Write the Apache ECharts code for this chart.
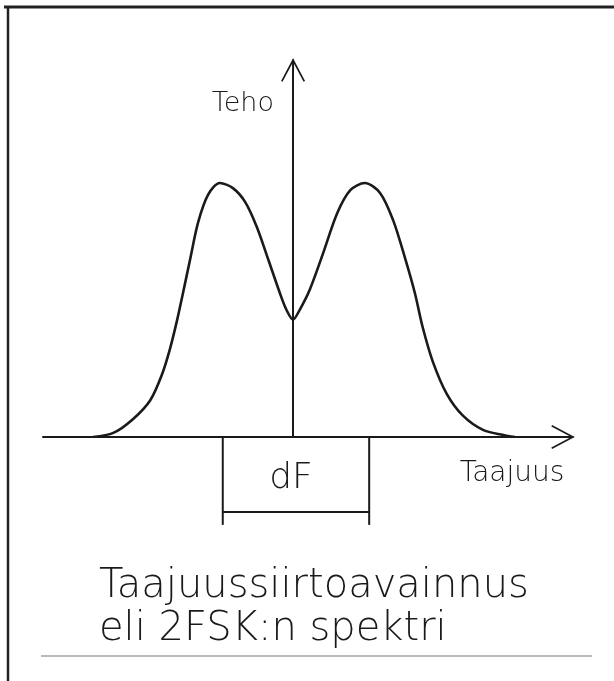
<!DOCTYPE html>
<html>
<head>
<meta charset="utf-8">
<script src="https://cdn.jsdelivr.net/npm/echarts@6/dist/echarts.min.js"></script>
<style>
  html, body { margin: 0; padding: 0; background: #fff; }
  #spectrum { width: 614px; height: 681px; }
</style>
</head>
<body>
<div id="spectrum"></div>
<script>
// taajuus (peaks at -1 and +1) and teho (peak = 1)
const freq = [-2.76, -2.48, -2.21, -1.97, -1.81, -1.70, -1.60, -1.52, -1.42, -1.31, -1.17, -1.01,
  -0.83, -0.66, -0.50, -0.34, -0.18, -0.09, 0, 0.09, 0.23, 0.41, 0.61, 0.79, 0.99, 1.20, 1.38,
  1.54, 1.68, 1.79, 1.93, 2.12, 2.34, 2.62, 2.90, 3.06];
const power = [0, 0.016, 0.07, 0.145, 0.245, 0.345, 0.46, 0.565, 0.7, 0.845, 0.955, 1.0,
  0.98, 0.925, 0.827, 0.697, 0.565, 0.5, 0.462, 0.5, 0.58, 0.72, 0.882, 0.972, 1.0, 0.961,
  0.854, 0.709, 0.567, 0.43, 0.295, 0.17, 0.085, 0.028, 0.008, 0];

// dF bracket under the axis
const dfEdges = [-0.97, 1.05];
const dfBottom = -0.295;
const dfTick = -0.346;

const axisLabelX = "Taajuus";
const axisLabelY = "Teho";
const dfLabel = "dF";
const titleLines = ["Taajuussiirtoavainnus", "eli 2FSK:n spektri"];

const ink = "#1a1a1a";
const font = "DejaVu Sans";
// open arrow head (with stem) pointing up, 24x24
const arrow = "path://M12,0 L24,22.6 L22.5,23.4 L12,3.6 L1.5,23.4 L0,22.6 Z M11,1 L13,1 L13,12 L11,12 Z";

const segment = (pts) => ({
  type: "line",
  data: pts,
  showSymbol: false,
  clip: false,
  silent: true,
  lineStyle: { color: ink, width: 2 },
});

const chart = echarts.init(document.getElementById("spectrum"));
chart.setOption({
  animation: false,
  backgroundColor: "#fff",
  grid: { left: 43, right: 51, top: 70, bottom: 244 },
  xAxis: {
    type: "value",
    min: -3.45,
    max: 3.724,
    axisLine: {
      lineStyle: { color: ink, width: 2 },
      symbol: ["none", arrow],
      symbolSize: [24, 24],
    },
    axisTick: { show: false },
    axisLabel: { show: false },
    splitLine: { show: false },
  },
  yAxis: {
    type: "value",
    min: 0,
    max: 1.445,
    axisLine: {
      onZero: true,
      lineStyle: { color: ink, width: 2 },
      symbol: ["none", arrow],
      symbolSize: [24, 24],
    },
    axisTick: { show: false },
    axisLabel: { show: false },
    splitLine: { show: false },
  },
  series: [
    {
      type: "line",
      data: freq.map((f, i) => [f, power[i]]),
      smooth: 0.3,
      showSymbol: false,
      lineStyle: { color: ink, width: 2.6 },
    },
    segment([[dfEdges[0], 0], [dfEdges[0], dfTick]]),
    segment([[dfEdges[1], 0], [dfEdges[1], dfTick]]),
    segment([[dfEdges[0], dfBottom], [dfEdges[1], dfBottom]]),
  ],
  graphic: [
    // frame of the scanned sheet
    { type: "line", shape: { x1: 4, y1: 7, x2: 614, y2: 7 }, style: { stroke: "#222", lineWidth: 3 } },
    { type: "line", shape: { x1: 8, y1: 6, x2: 8, y2: 681 }, style: { stroke: "#222", lineWidth: 2.5 } },
    { type: "line", shape: { x1: 41, y1: 656, x2: 592, y2: 656 }, style: { stroke: "#777", lineWidth: 1.2 } },
    {
      type: "text", x: 274, y: 104,
      style: { text: axisLabelY, font: "200 27px '" + font + "'", fill: ink, align: "right", verticalAlign: "middle" },
    },
    {
      type: "text", x: 512, y: 474,
      style: { text: axisLabelX, font: "200 28px '" + font + "'", fill: ink, align: "center", verticalAlign: "middle" },
    },
    {
      type: "text", x: 291, y: 479,
      style: { text: dfLabel, font: "200 36px '" + font + "'", fill: ink, align: "center", verticalAlign: "middle" },
    },
    {
      type: "text", x: 99, y: 587,
      style: { text: titleLines[0], font: "200 40px '" + font + "'", fill: ink, align: "left", verticalAlign: "middle" },
    },
    {
      type: "text", x: 99, y: 630,
      style: { text: titleLines[1], font: "200 40px '" + font + "'", fill: ink, align: "left", verticalAlign: "middle" },
    },
  ],
});
</script>
</body>
</html>
